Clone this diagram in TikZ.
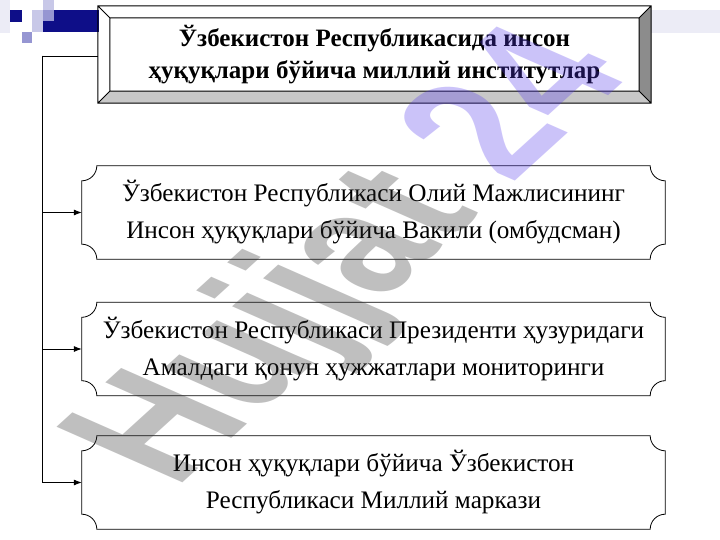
\documentclass[tikz,border=0pt]{standalone}
\usepackage{fontspec}
\setmainfont{Liberation Serif}
\newfontfamily\wmfont{Liberation Sans}
\usetikzlibrary{calc,arrows.meta}

\definecolor{navy}{RGB}{14,14,136}
\definecolor{lilac}{RGB}{150,150,210}
\definecolor{paleblue}{RGB}{200,200,232}
\definecolor{faintblue}{RGB}{236,236,246}
\definecolor{bevelgray}{RGB}{140,140,140}
\definecolor{bevellight}{RGB}{200,200,200}
\definecolor{wmgray}{RGB}{45,45,45}
\definecolor{wmpurple}{RGB}{85,58,238}

\tikzset{
  inst/.style={minimum width=583pt,minimum height=93pt,inner sep=0pt,align=center,font=\fontsize{25.2}{37}\selectfont},
  link/.style={-{Latex[length=8pt,width=6pt]},line width=0.8pt},
}

% frame with scooped corners round a node
\newcommand{\scoopframe}[1]{%
  \draw[line width=0.8pt] ($(#1.north west)+(15,0)$) -- ($(#1.north east)+(-15,0)$)
    arc[start angle=180,end angle=90,radius=15] -- ($(#1.south east)+(0,-15)$)
    arc[start angle=270,end angle=180,radius=15] -- ($(#1.south west)+(15,0)$)
    arc[start angle=0,end angle=-90,radius=15] -- ($(#1.north west)+(0,15)$)
    arc[start angle=90,end angle=0,radius=15] -- cycle;
}

\begin{document}
\begin{tikzpicture}[x=1pt,y=-1pt]
  \useasboundingbox (0,0) rectangle (720,540);
  \fill[white] (0,0) rectangle (720,540);

  % squares of the slide template
  \fill[faintblue] (0,0) rectangle (10,33);
  \fill[navy] (43,10) rectangle (99,32);
  \fill[navy] (10,10) rectangle (22,22);
  \fill[paleblue] (32,10) rectangle (43,32);
  \fill[lilac] (22,32) rectangle (32,43);
  \fill[paleblue] (43,0) rectangle (54,10);
  \fill[lilac] (43,10) rectangle (54,21);
  \fill[faintblue] (651,10) rectangle (720,33);

  % title with bevel
  \node[minimum width=529pt,minimum height=73pt,inner sep=0pt,align=center,
        font=\bfseries\fontsize{25}{32}\selectfont] (title) at (374.5,54.5)
       {Ўзбекистон Республикасида инсон\\ҳуқуқлари бўйича миллий институтлар};
  \coordinate (o1) at ($(title.north west)+(-12,-12)$);
  \coordinate (o2) at ($(title.north east)+(12,-12)$);
  \coordinate (o3) at ($(title.south east)+(12,12)$);
  \coordinate (o4) at ($(title.south west)+(-12,12)$);
  \fill[bevelgray] (title.north east) -- (o2) -- (o3) -- (title.south east) -- cycle;
  \fill[bevellight] (title.south west) -- (title.south east) -- (o3) -- (o4) -- cycle;
  \draw[line width=1pt] (o1) rectangle (o3) (title.north west) rectangle (title.south east)
    (o1) -- (title.north west) (o2) -- (title.north east)
    (o3) -- (title.south east) (o4) -- (title.south west);

  % institutions
  \node[inst] (vakil) at (373.5,212.5) {Ўзбекистон Республикаси Олий Мажлисининг\\Инсон ҳуқуқлари бўйича Вакили (омбудсман)};
  \node[inst] (monitor) at (373.5,349) {Ўзбекистон Республикаси Президенти ҳузуридаги\\Амалдаги қонун ҳужжатлари мониторинги};
  \node[inst] (markaz) at (373.5,482.5) {Инсон ҳуқуқлари бўйича Ўзбекистон\\Республикаси Миллий маркази};
  \foreach \n in {vakil,monitor,markaz}
    \scoopframe{\n};

  % connectors
  \coordinate (trunk) at ($(o1 |- title.west)+(-55,1.5)$);
  \draw[line width=0.8pt] ($(o1 |- title.west)+(0,1.5)$) -- (trunk);
  \foreach \n in {vakil,monitor,markaz}
    \draw[link] (trunk) |- (\n.west);

  % watermark
  \begin{scope}[cm={0.55,0.50,-0.915,0.404,(175,490)}]
    \node[transform shape,anchor=base west,inner sep=0pt,text opacity=0.3,
          font=\wmfont\bfseries\fontsize{200}{200}\selectfont] (mark)
         {\textcolor{wmgray}{Hujjat} \textcolor{wmpurple}{24}};
  \end{scope}
\end{tikzpicture}
\end{document}
